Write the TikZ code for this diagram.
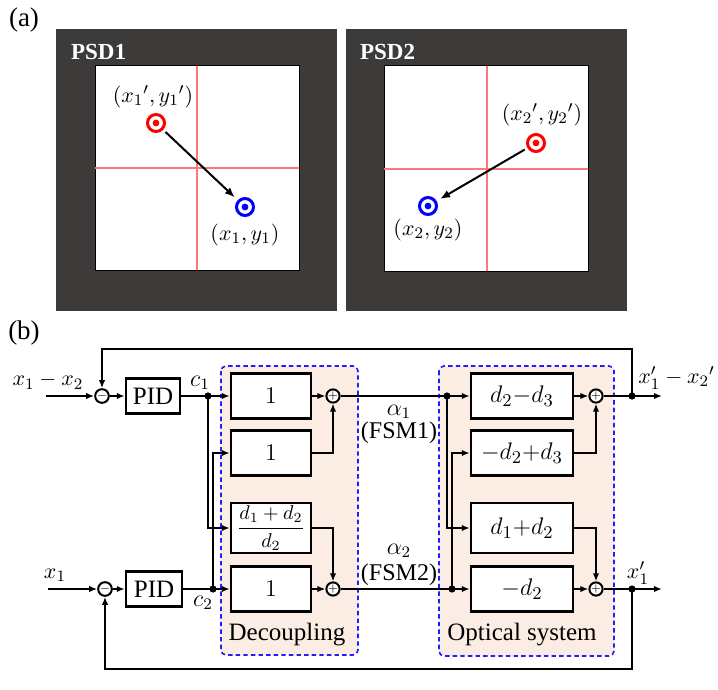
\documentclass[tikz,border=0pt]{standalone}
\usepackage{amsmath}
\usepackage{fontspec}
\setmainfont{Liberation Serif}
\usetikzlibrary{arrows.meta,positioning,calc}
\definecolor{psdgray}{RGB}{60,59,57}
\definecolor{peach}{RGB}{251,237,228}
\definecolor{dashblue}{RGB}{30,30,255}
\definecolor{crossred}{RGB}{255,120,120}

\tikzset{
  blk/.style={draw,line width=1.2pt,fill=white,inner sep=0pt,minimum width=40pt,minimum height=22.5pt,font=\fontsize{12.5}{15}\selectfont},
  oblk/.style={blk,minimum width=51pt},
  sumnode/.style={circle,draw,line width=1pt,fill=white,minimum size=6pt,inner sep=0pt,font=\fontsize{5}{5}\selectfont},
  sig/.style={line width=1pt,->},
  wire/.style={line width=1pt},
  groupbox/.style={draw=dashblue,fill=peach,line width=0.8pt,dash pattern=on 2.2pt off 1.6pt,rounded corners=2.5pt},
  target/.style={circle,draw=#1,line width=1.5pt,minimum size=8.5pt,inner sep=0pt,
    path picture={\fill[#1] (path picture bounding box.center) circle (1.7pt);}},
  lbl/.style={font=\fontsize{12}{14}\selectfont},
  mlbl/.style={font=\fontsize{11}{13}\selectfont},
  ptlbl/.style={font=\fontsize{11}{13}\selectfont},
  cross/.style={draw=crossred,line width=0.75pt}
}

\begin{document}
\begin{tikzpicture}[x=0.5pt,y=-0.5pt,>={Latex[length=4pt,width=3.2pt]}]
\useasboundingbox (0,0) rectangle (718,690);

% (a) the two PSDs
\node[font=\fontsize{13.5}{15}\selectfont] (tagA) at (24,20) {(a)};
\fill[psdgray] (56,29) rectangle (337,311);
\fill[psdgray] (346,29) rectangle (627,311);
\draw[fill=white,line width=0.5pt] (95,66) rectangle (299,270);
\draw[fill=white,line width=0.5pt] (384,66) rectangle (588,271);
\draw[cross] (197,66)--(197,270);
\draw[cross] (95,168)--(299,168);
\draw[cross] (487,66)--(487,271);
\draw[cross] (384,169)--(588,169);
\node[anchor=west,text=white,font=\bfseries\fontsize{11.5}{13}\selectfont] (psdA) at (64,52) {PSD1};
\node[anchor=west,text=white,font=\bfseries\fontsize{11.5}{13}\selectfont] (psdB) at (353,52) {PSD2};

\node[target=red] (rA) at (156,123) {};
\node[target=blue] (bA) at (245,207) {};
\node[target=red] (rB) at (536,143) {};
\node[target=blue] (bB) at (428,206) {};
\draw[line width=1pt,-{Latex[length=5pt,width=4pt]},shorten <=1.5pt,shorten >=2pt] (rA)--(bA);
\draw[line width=1pt,-{Latex[length=5pt,width=4pt]},shorten <=1.5pt,shorten >=2pt] (rB)--(bB);
\node[ptlbl] (rAl) at (153,97) {$({x_1}',{y_1}')$};
\node[ptlbl] (bAl) at (245,235) {$(x_1,y_1)$};
\node[ptlbl] (rBl) at (542,115) {$({x_2}',{y_2}')$};
\node[ptlbl] (bBl) at (428,230) {$(x_2,y_2)$};

% (b) block diagram
\node[font=\fontsize{13.5}{15}\selectfont] (tagB) at (24,333) {(b)};
\draw[groupbox] (221,366) rectangle (358,655);
\draw[groupbox] (439,366) rectangle (614,656);
\node[font=\fontsize{12.5}{15}\selectfont] (decl) at (287,635) {Decoupling};
\node[font=\fontsize{12.5}{15}\selectfont] (optl) at (522,635) {Optical system};

\coordinate (inA) at (46,396);
\coordinate (inB) at (48,589);
\node[sumnode] (sA) at (102,396) {$-$};
\node[sumnode] (sB) at (105,589) {$-$};
\node[blk,minimum width=27pt,minimum height=17.5pt] (pidA) at (153,396) {PID};
\node[blk,minimum width=28pt,minimum height=17.5pt] (pidB) at (154,589) {PID};
\coordinate (cA) at (208,396);
\coordinate (cB) at (213,589);

\node[blk] (dA) at (271,396) {$1$};
\node[blk] (dB) at (271,453) {$1$};
\node[blk,minimum height=25pt,font=\fontsize{10}{12}\selectfont] (dC) at (271,528) {$\dfrac{d_1+d_2}{d_2}$};
\node[blk] (dD) at (271,589) {$1$};
\node[sumnode] (dsA) at (333,396) {$+$};
\node[sumnode] (dsB) at (333,589) {$+$};

\coordinate (aA) at (447,396);
\coordinate (aB) at (452,589);
\node[oblk] (oA) at (522,396) {$d_2{-}d_3$};
\node[oblk] (oB) at (522,453) {$-d_2{+}d_3$};
\node[oblk,minimum height=25pt] (oC) at (522,528) {$d_1{+}d_2$};
\node[oblk] (oD) at (522,589) {$-d_2$};
\node[sumnode] (osA) at (596,396) {$+$};
\node[sumnode] (osB) at (596,589) {$+$};
\coordinate (outA) at (632,396);
\coordinate (outB) at (632,589);
\coordinate (endA) at (662,396);
\coordinate (endB) at (662,589);

% labels
\node[mlbl] (inAl) at (48,381) {$x_1-x_2$};
\node[mlbl] (inBl) at (55,575) {$x_1$};
\node[lbl] (cAl) at (200,383) {$c_1$};
\node[lbl] (cBl) at (203,603) {$c_2$};
\node[lbl] (alA) at (399,412) {$\alpha_1$};
\node[lbl] (fsA) at (399,433) {(FSM1)};
\node[lbl] (alB) at (399,551) {$\alpha_2$};
\node[lbl] (fsB) at (399,575) {(FSM2)};
\node[mlbl,anchor=west,inner sep=1pt] (outAl) at (636,378) {$x'_1-{x_2}'$};
\node[mlbl] (outBl) at (638,573) {$x'_1$};

% signal paths
\draw[sig] (inA)--(sA);
\draw[sig] (inB)--(sB);
\draw[sig] (sA)--(pidA);
\draw[sig] (sB)--(pidB);
\draw[sig] (pidA)--(dA);
\draw[sig] (pidB)--(dD);
\draw[sig] (cA) |- (dC.west);
\draw[sig] (cB) |- (dB.west);
\draw[sig] (dA)--(dsA);
\draw[sig] (dD)--(dsB);
\draw[sig] (dB.east) -| (dsA.south);
\draw[sig] (dC.east) -| (dsB.north);
\draw[sig] (dsA)--(oA);
\draw[sig] (dsB)--(oD);
\draw[sig] (aA) |- (oC.west);
\draw[sig] (aB) |- (oB.west);
\draw[sig] (oA)--(osA);
\draw[sig] (oD)--(osB);
\draw[sig] (oB.east) -| (osA.south);
\draw[sig] (oC.east) -| (osB.north);
\draw[sig] (osA)--(endA);
\draw[sig] (osB)--(endB);
\draw[sig] (outA)--++(0,-47) -| (sA.north);
\draw[sig] (outB)--++(0,80) -| (sB.south);

% junction dots
\foreach \j in {cA,cB,aA,aB,outA,outB}
  \fill (\j) circle (1.8pt);
\end{tikzpicture}
\end{document}
